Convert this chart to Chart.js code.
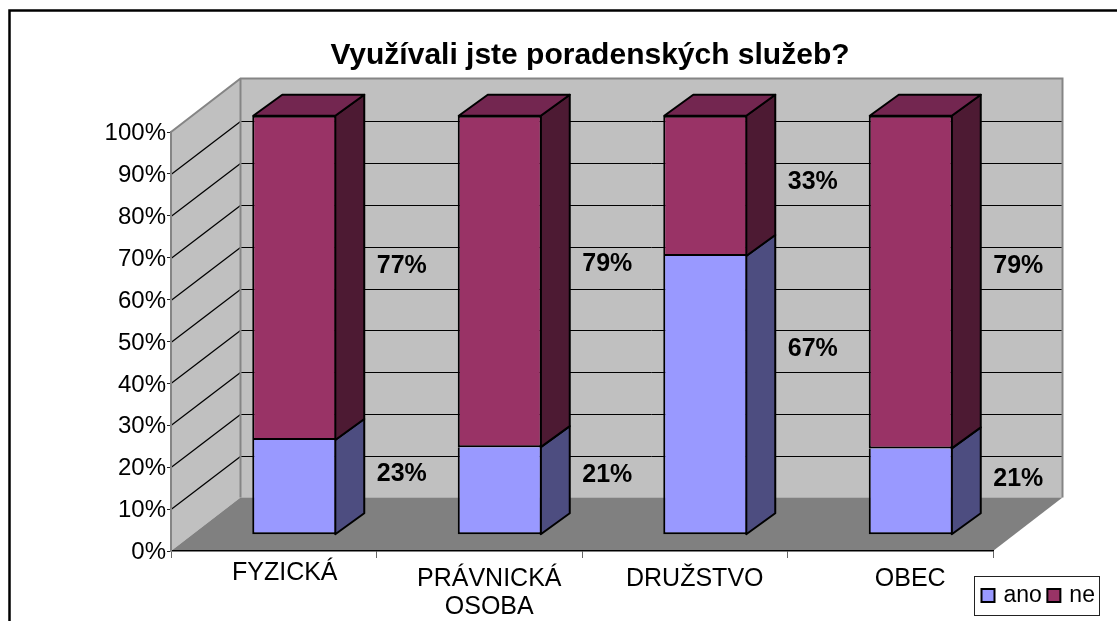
<!DOCTYPE html>
<html lang="cs">
<head>
<meta charset="utf-8">
<title>Využívali jste poradenských služeb?</title>
<script src="https://cdn.jsdelivr.net/npm/chart.js@4/dist/chart.umd.js"></script>
<style>html,body{margin:0;padding:0;background:#fff;overflow:hidden}canvas{display:block}</style>
</head>
<body>
<canvas id="c" width="1117" height="621"></canvas>
<script>
const titleText = 'Využívali jste poradenských služeb?';
const categories = ['FYZICKÁ', ['PRÁVNICKÁ', 'OSOBA'], 'DRUŽSTVO', 'OBEC'];
const anoValues = [22.6, 20.9, 66.5, 20.6];
const neValues = [77.4, 79.1, 33.5, 79.4];
const anoLabels = ['23%', '21%', '67%', '21%'];
const neLabels = ['77%', '79%', '33%', '79%'];
const seriesNames = ['ano', 'ne'];

const FONT = '"Liberation Sans", Arial, sans-serif';
const WALL_DX = 69.5, WALL_DY = 53.5;    // depth of the floor
const BAR_DX = 20.5, BAR_DY = 16.3;      // where the bar sits in that depth
const BAR_DEPTH_X = 29, BAR_DEPTH_Y = 21;
const LABEL_DX = 128;
const labelLift = [[13, 16, 46, 12], [12, 17, 4, 16]];
const tickNudge = [[11, -6], [10, 0], [10, 0], [20, 0]];
const yLabelNudge = 1.5;

function poly(ctx, pts, fill, stroke, lw) {
  ctx.beginPath();
  pts.forEach((p, i) => i ? ctx.lineTo(p[0], p[1]) : ctx.moveTo(p[0], p[1]));
  ctx.closePath();
  if (fill) { ctx.fillStyle = fill; ctx.fill(); }
  if (stroke) { ctx.strokeStyle = stroke; ctx.lineWidth = lw; ctx.stroke(); }
}

const scene3d = {
  id: 'scene3d',
  afterLayout(chart) {
    const t = chart.titleBlock;
    t.left += 93.5; t.right += 93.5;
    const lg = chart.legend;
    lg.left = 976; lg.right = 1117; lg.top = 576;
    const x = chart.scales.x;
    x.bottom = chart.height;
    x.getLabelItems().forEach((it, i) => {
      it.options.translation[0] += tickNudge[i][0];
      it.options.translation[1] += tickNudge[i][1];
    });
    chart.scales.y.getLabelItems().forEach(it => {
      it.options.translation[1] += yLabelNudge;
    });
  },
  beforeDraw(chart) {
    const { ctx, scales: { x, y } } = chart;
    const L = x.left, R = x.right, B = y.getPixelForValue(0), T = y.getPixelForValue(100);
    ctx.save();
    ctx.fillStyle = '#fff';
    ctx.fillRect(0, 0, chart.width, chart.height);
    ctx.strokeStyle = '#000';
    ctx.lineWidth = 2.5;
    ctx.strokeRect(9.5, 10.5, chart.width + 20, chart.height + 20);
    // walls and floor
    poly(ctx, [[L + WALL_DX, T - WALL_DY], [R + WALL_DX, T - WALL_DY], [R + WALL_DX, B - WALL_DY], [L + WALL_DX, B - WALL_DY]], '#c0c0c0');
    poly(ctx, [[L, B], [L + WALL_DX, B - WALL_DY], [L + WALL_DX, T - WALL_DY], [L, T]], '#c0c0c0');
    poly(ctx, [[L, B], [R, B], [R + WALL_DX, B - WALL_DY], [L + WALL_DX, B - WALL_DY]], '#808080');
    // grid lines on walls
    ctx.strokeStyle = '#000';
    y.ticks.forEach(tk => {
      if (tk.value === 0 || tk.value === 100) return;
      const py = Math.round(y.getPixelForValue(tk.value)) + 0.5;
      const back = Math.round(py - WALL_DY) + 0.5;
      ctx.lineWidth = 1.25;
      ctx.beginPath();
      ctx.moveTo(L, py);
      ctx.lineTo(L + WALL_DX, back);
      ctx.stroke();
      ctx.lineWidth = 1;
      ctx.beginPath();
      ctx.moveTo(L + WALL_DX, back);
      ctx.lineTo(R + WALL_DX, back);
      ctx.stroke();
    });
    // wall edges
    ctx.strokeStyle = '#858585';
    ctx.lineWidth = 2;
    ctx.beginPath();
    ctx.moveTo(L, T);
    ctx.lineTo(L + WALL_DX, T - WALL_DY);
    ctx.lineTo(R + WALL_DX, T - WALL_DY);
    ctx.lineTo(R + WALL_DX, B - WALL_DY);
    ctx.moveTo(L + WALL_DX, T - WALL_DY);
    ctx.lineTo(L + WALL_DX, B - WALL_DY);
    ctx.stroke();
    // legend frame
    ctx.fillStyle = '#fff';
    ctx.strokeStyle = '#222';
    ctx.lineWidth = 1;
    ctx.fillRect(974.5, 576.5, 125, 39);
    ctx.strokeRect(974.5, 576.5, 125, 39);
    ctx.restore();
  },
  beforeDatasetsDraw(chart) {
    const { ctx } = chart;
    ctx.save();
    ctx.translate(BAR_DX, -BAR_DY);
    ctx.lineJoin = 'round';
    chart.data.datasets.forEach((ds, di) => {
      chart.getDatasetMeta(di).data.forEach(bar => {
        const r = bar.x + bar.width / 2 - 1, l = bar.x - bar.width / 2 + 1;
        poly(ctx, [[r, bar.y], [r + BAR_DEPTH_X, bar.y - BAR_DEPTH_Y], [r + BAR_DEPTH_X, bar.base - BAR_DEPTH_Y], [r, bar.base]], ds.sideColor, '#000', 2);
        if (di === chart.data.datasets.length - 1) {
          poly(ctx, [[l, bar.y], [l + BAR_DEPTH_X, bar.y - BAR_DEPTH_Y], [r + BAR_DEPTH_X, bar.y - BAR_DEPTH_Y], [r, bar.y]], ds.topColor, '#000', 2);
        }
      });
    });
  },
  afterDatasetsDraw(chart) {
    const { ctx } = chart;
    ctx.restore();
    ctx.save();
    ctx.fillStyle = '#000';
    ctx.font = 'bold 25px ' + FONT;
    ctx.textAlign = 'center';
    ctx.textBaseline = 'middle';
    chart.data.datasets.forEach((ds, di) => {
      chart.getDatasetMeta(di).data.forEach((bar, i) => {
        const mid = (bar.y + bar.base) / 2 - BAR_DY - labelLift[di][i];
        ctx.fillText(ds.valueLabels[i], bar.x + LABEL_DX, mid);
      });
    });
    ctx.restore();
  }
};

const seriesStyle = (name, data, valueLabels, front, side, top, skipped) => ({
  label: name, data, valueLabels,
  backgroundColor: front, sideColor: side, topColor: top,
  borderColor: '#000', borderWidth: 2, borderSkipped: skipped, inflateAmount: 0,
  barPercentage: 84 / 205.5, categoryPercentage: 1, clip: false
});

new Chart(document.getElementById('c'), {
  type: 'bar',
  data: {
    labels: categories,
    datasets: [
      seriesStyle(seriesNames[0], anoValues, anoLabels, '#9999ff', '#4d4d80', '#7373bf', 'top'),
      seriesStyle(seriesNames[1], neValues, neLabels, '#993366', '#4d1a33', '#732650', false)
    ]
  },
  plugins: [scene3d],
  options: {
    responsive: false,
    animation: false,
    devicePixelRatio: 1,
    layout: { padding: { left: 0, right: 124, top: 0, bottom: 0 } },
    events: [],
    plugins: {
      tooltip: { enabled: false },
      title: {
        display: true, text: titleText, color: '#000',
        font: { family: FONT, size: 30, weight: 'bold' },
        padding: { top: 38, bottom: 58 }
      },
      legend: {
        position: 'bottom', align: 'start',
        labels: {
          color: '#000', font: { family: FONT, size: 23 },
          usePointStyle: true, pointStyle: 'rect',
          boxWidth: 8, boxHeight: 13, padding: 8
        }
      }
    },
    scales: {
      x: {
        stacked: true,
        afterFit(s) { s.height = 70 - (s.chart.legend ? s.chart.legend.height : 0); },
        border: { color: '#000', width: 1.5 },
        grid: { drawOnChartArea: false, drawTicks: true, tickLength: 7, tickColor: '#666', offset: true },
        ticks: { color: '#000', font: { family: FONT, size: 25, lineHeight: 1.12 }, maxRotation: 0, autoSkip: false, padding: 7 }
      },
      y: {
        stacked: true, min: 0, max: 100,
        afterFit(s) { s.width = 171; },
        border: { color: '#858585', width: 2 },
        grid: { drawOnChartArea: false, drawTicks: true, tickLength: 4, tickColor: '#222' },
        ticks: { color: '#000', stepSize: 10, font: { family: FONT, size: 24 }, padding: 1, callback: v => v + '%' }
      }
    }
  }
});
</script>
</body>
</html>
